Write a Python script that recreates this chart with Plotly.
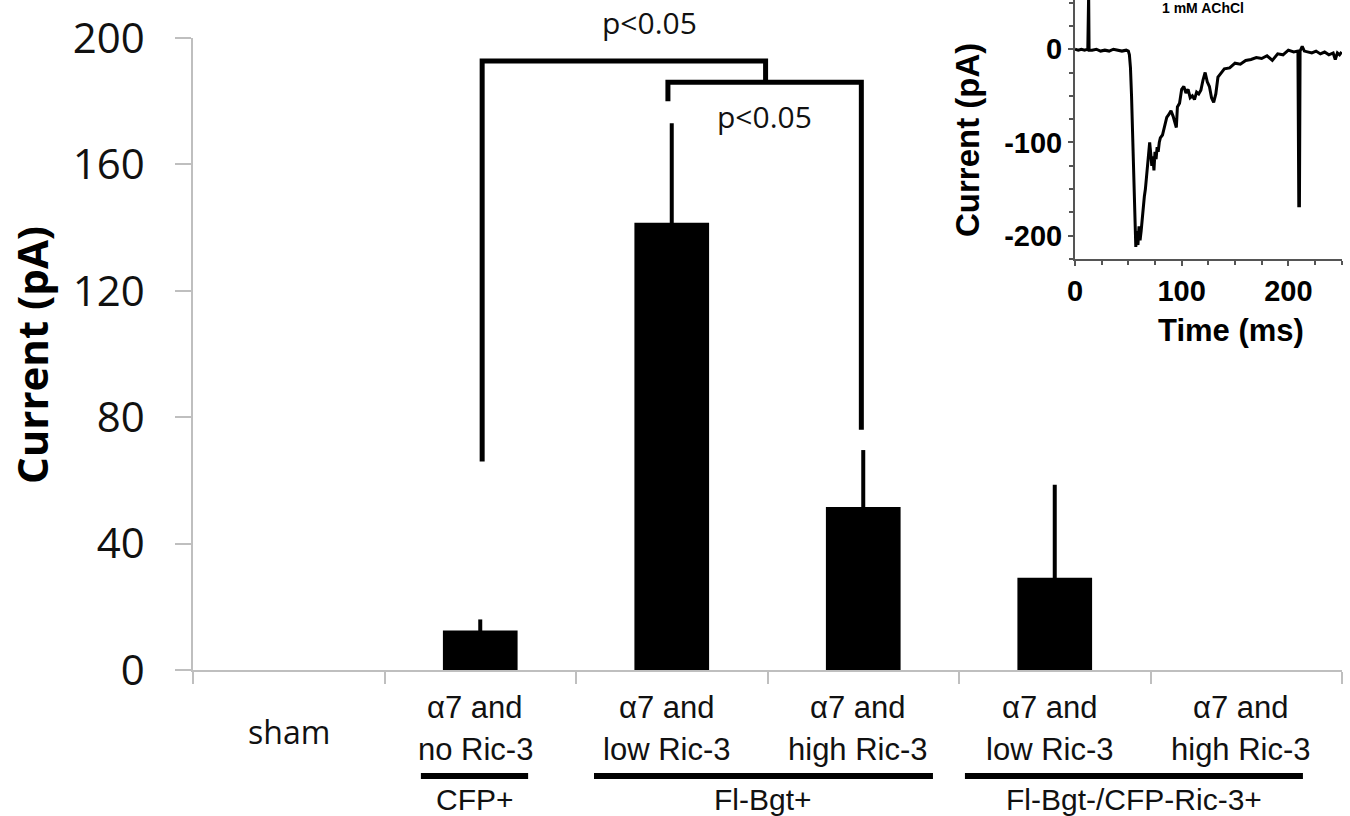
import plotly.graph_objects as go

# ---------------- data ----------------
categories = ["sham", "α7 and<br>no Ric-3", "α7 and<br>low Ric-3", "α7 and<br>high Ric-3",
              "α7 and<br>low Ric-3", "α7 and<br>high Ric-3"]
current_mean = [0, 12.5, 141.5, 51.6, 29.2, 0]
current_err = [0, 3.5, 31.5, 18.0, 29.4, 0]
y_ticks = [0, 40, 80, 120, 160, 200]

groups = ["CFP+", "Fl-Bgt+", "Fl-Bgt-/CFP-Ric-3+"]

sig_labels = ["p<0.05", "p<0.05"]

# inset trace (time in ms, current in pA)
trace_t = [0, 3, 6, 9, 12, 12.4, 12.8, 13.2, 16, 20, 24, 28, 32, 36, 40, 44, 48, 50, 51, 52, 53, 54,
           55, 56, 57, 58, 59, 60, 61, 62, 63, 64, 65, 66, 67, 68, 69, 70, 71, 72, 73, 74, 75, 76,
           77, 78, 79, 80, 82, 84, 86, 88, 90, 92, 94, 95, 96, 98, 100, 102, 104, 106, 108, 110,
           112, 114, 116, 118, 120, 122, 124, 126, 128, 130, 132, 134, 136, 138, 140, 145, 150,
           155, 160, 165, 170, 175, 180, 185, 190, 195, 200, 205, 209, 209.8, 210.4, 211, 213,
           215, 218, 222, 226, 230, 234, 238, 242, 244, 246, 248, 250]
trace_i = [0, -1, 0, -1, 0, 60, 60, -1, -1, 0, -2, -1, -2, 0, -1, -2, -1, -2, -6, -20, -50, -95,
           -150, -195, -212, -195, -210, -190, -205, -195, -180, -165, -158, -150, -138, -128,
           -110, -100, -112, -125, -115, -130, -110, -118, -105, -110, -100, -95, -92, -83, -73,
           -70, -66, -72, -80, -84, -62, -58, -43, -40, -47, -43, -52, -50, -54, -46, -48, -44,
           -33, -25, -35, -40, -52, -57, -48, -30, -27, -24, -21, -20, -15, -16, -12, -11, -9,
           -10, -7, -12, -5, -6, -1, -3, -2, -168, -168, -2, 3, -2, -3, -4, -2, -5, -3, -6, -4,
           -11, -4, -6, -3]
inset_xticks = [0, 100, 200]
inset_yticks = [-200, -100, 0]

# ---------------- figure ----------------
fig = go.Figure()

fig.add_trace(go.Bar(
    x=list(range(len(categories))), y=current_mean,
    width=0.39, marker=dict(color="black", line=dict(width=0)),
    error_y=dict(type="data", array=current_err, color="black", thickness=4, width=0),
    showlegend=False, hoverinfo="skip"))

fig.add_trace(go.Scatter(
    x=trace_t, y=trace_i, mode="lines", xaxis="x2", yaxis="y2",
    line=dict(color="black", width=3), showlegend=False, hoverinfo="skip"))

H_PLOT = 670.0
W_PLOT = 1149.0
L = 193

def py(px):
    return (H_PLOT - px) / H_PLOT

def pxx(px):
    return (px - L) / W_PLOT

AX = "#bfbfbf"
fig.update_layout(
    template="none",
    width=1350, height=816,
    margin=dict(l=L, r=8, t=0, b=146, pad=0),
    paper_bgcolor="white", plot_bgcolor="white",
    bargap=0.61,
    xaxis=dict(domain=[0, 1], range=[-0.5, 5.5], tickmode="array",
               tickvals=[i - 0.5 for i in range(len(categories) + 1)],
               showticklabels=False, ticks="outside", ticklen=12, tickwidth=1.5, tickcolor=AX,
               showline=True, linecolor=AX, linewidth=1.5, showgrid=False, zeroline=False,
               anchor="y", automargin=False),
    yaxis=dict(domain=[0, 632 / 670], range=[0, 200], tickmode="array", tickvals=y_ticks,
               ticktext=[str(v) for v in y_ticks],
               tickfont=dict(family="Open Sans", size=42, color="#111"),
               ticks="outside", ticklen=16, tickwidth=1.5, tickcolor=AX, ticklabelstandoff=22,
               showline=True, linecolor=AX, linewidth=1.5, showgrid=False, zeroline=False,
               anchor="x", automargin=False),
    xaxis2=dict(domain=[pxx(1075), 1.0], range=[0, 250.3], anchor="y2", tickmode="array",
                tickvals=inset_xticks, ticktext=[str(v) for v in inset_xticks],
                tickfont=dict(family="Liberation Sans", size=29, color="black", weight="bold"),
                ticks="outside", ticklen=5, tickwidth=1.5, tickcolor="#555",
                minor=dict(tickmode="linear", tick0=0, dtick=25, ticks="outside", ticklen=4,
                           tickwidth=1.5, tickcolor="#555"),
                showline=True, linecolor="#555", linewidth=2, showgrid=False, zeroline=False,
                automargin=False),
    yaxis2=dict(domain=[py(259), 1.0], range=[-225, 52.8], anchor="x2", tickmode="array",
                tickvals=inset_yticks, ticktext=[str(v) for v in inset_yticks],
                tickfont=dict(family="Liberation Sans", size=29, color="black", weight="bold"),
                ticks="outside", ticklen=5, tickwidth=1.5, tickcolor="#555",
                minor=dict(tickmode="linear", tick0=0, dtick=25, ticks="outside", ticklen=4,
                           tickwidth=1.5, tickcolor="#555"),
                showline=True, linecolor="#555", linewidth=2, showgrid=False, zeroline=False,
                automargin=False),
)

annotations = []
# y-axis title
annotations.append(dict(text="<b>Current (pA)</b>", xref="paper", yref="paper",
                        x=pxx(31), y=py(355), textangle=-90,
                        showarrow=False, xanchor="center", yanchor="middle",
                        font=dict(family="Open Sans", size=42, color="black")))

# category labels
for i, lab in enumerate(categories):
    lines = lab.split("<br>")
    if len(lines) == 1:
        annotations.append(dict(text=lines[0], x=i, xref="x", y=py(731), yref="paper",
                                showarrow=False, xanchor="center", yanchor="middle",
                                font=dict(family="Open Sans", size=32, color="#111")))
    else:
        for k, ln in enumerate(lines):
            annotations.append(dict(text=ln, x=i, xref="x", xshift=-5,
                                    y=py(707 + 42 * k), yref="paper",
                                    showarrow=False, xanchor="center", yanchor="middle",
                                    font=dict(family="Liberation Sans", size=31, color="#111")))

# group labels and underlines
group_spans = [(0.69, 1.25), (1.594, 3.364), (3.531, 5.296)]
shapes = []
for g, (a, b) in zip(groups, group_spans):
    shapes.append(dict(type="line", xref="x", yref="paper", x0=a, x1=b,
                       y0=py(776), y1=py(776), line=dict(color="black", width=6)))
    annotations.append(dict(text=g, x=(a + b) / 2, xref="x", y=py(800), yref="paper",
                            showarrow=False, xanchor="center", yanchor="middle",
                            font=dict(family="Liberation Sans", size=30, color="#111")))

# significance brackets
bw = dict(color="black", width=5)
shapes.append(dict(type="path", xref="x", yref="y",
                   path="M 1.01,66 L 1.01,192.7 L 2.49,192.7 L 2.49,186", line=bw))
shapes.append(dict(type="path", xref="x", yref="y",
                   path="M 1.98,180 L 1.98,186 L 2.99,186 L 2.99,76", line=bw))
annotations.append(dict(text=sig_labels[0], x=pxx(649), xref="paper", y=py(23), yref="paper",
                        showarrow=False, xanchor="center", yanchor="middle",
                        font=dict(family="Open Sans", size=30, color="#111")))
annotations.append(dict(text=sig_labels[1], x=pxx(764), xref="paper", y=py(116), yref="paper",
                        showarrow=False, xanchor="center", yanchor="middle",
                        font=dict(family="Open Sans", size=30, color="#111")))

# inset texts
annotations.append(dict(text="<b>Time (ms)</b>", xref="paper", yref="paper",
                        x=pxx(1231), y=py(330), showarrow=False,
                        xanchor="center", yanchor="middle",
                        font=dict(family="Liberation Sans", size=31, color="black")))
annotations.append(dict(text="<b>Current (pA)</b>", xref="paper", yref="paper",
                        x=pxx(967), y=py(140), textangle=-90,
                        showarrow=False, xanchor="center", yanchor="middle",
                        font=dict(family="Liberation Sans", size=33, color="black")))
annotations.append(dict(text="<b>1 mM AChCl</b>", xref="paper", yref="paper",
                        x=pxx(1203), y=py(8), showarrow=False,
                        xanchor="center", yanchor="middle",
                        font=dict(family="Liberation Sans", size=14, color="black")))

fig.update_layout(annotations=annotations, shapes=shapes)
fig.write_html("out.html", config={"displayModeBar": False},
               post_script="document.body.style.margin='0px';")
